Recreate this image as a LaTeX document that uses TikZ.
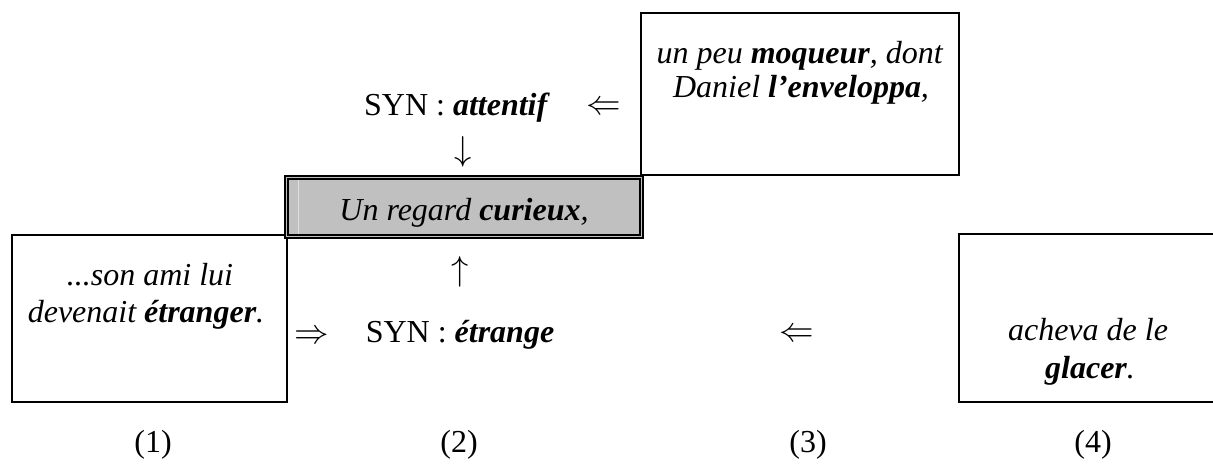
\documentclass[tikz,border=0pt]{standalone}
\usepackage{fontspec}
\setmainfont{Liberation Serif}
\definecolor{boxgray}{HTML}{C0C0C0}
\tikzset{
  txt/.style={anchor=base, inner sep=0pt, font=\fontsize{16}{18}\selectfont},
  sym/.style={inner sep=0pt, font=\fontsize{16}{18}\selectfont},
  frame/.style={line width=1pt},
}
\begin{document}
\begin{tikzpicture}[x=0.5pt, y=-0.5pt]
    % page
    \useasboundingbox (0,0) rectangle (1213,463);

    % boxes
    \draw[frame] (641,13) rectangle (959,175);
    \draw[frame] (12,235) rectangle (287,402);
    \draw[frame] (1213,234) -- (959,234) -- (959,402) -- (1213,402);
    \draw[frame, fill=boxgray] (285,176) rectangle (643,238);
    \draw[frame] (288,179) rectangle (640,235);
    \draw[white!50!boxgray, line width=0.4pt] (298,180) -- (298,234);

    % texts
    \node[txt] (moq) at (800,63) {\textit{un peu \textbf{moqueur}, dont}};
    \node[txt] (env) at (801,97) {\textit{Daniel \textbf{l’enveloppa},}};
    \node[txt] (syn1) at (457,115) {SYN : \textbf{\textit{attentif}}};
    \node[sym] (arr1) at (604,108) {$\Leftarrow$};
    \node[sym] (down) at (463,152) {$\downarrow$};
    \node[txt] (cur) at (464,220) {\textit{Un regard \textbf{curieux},}};
    \node[sym] (up) at (460,272) {$\uparrow$};
    \node[txt] (son) at (150,285) {\textit{...son ami lui}};
    \node[txt] (dev) at (146,322) {\textit{devenait \textbf{étranger}.}};
    \node[sym] (arr2) at (312,337) {$\Rightarrow$};
    \node[txt] (syn2) at (460,342) {SYN : \textbf{\textit{étrange}}};
    \node[sym] (arr3) at (797,335) {$\Leftarrow$};
    \node[txt] (ach) at (1088,340) {\textit{acheva de le}};
    \node[txt] (gla) at (1090,378) {\textit{\textbf{glacer}.}};

    % numbers
    \foreach \x/\n in {153/1, 459/2, 808/3, 1093/4}
      \node[txt] (lab\n) at (\x,452) {(\n)};
\end{tikzpicture}
\end{document}
